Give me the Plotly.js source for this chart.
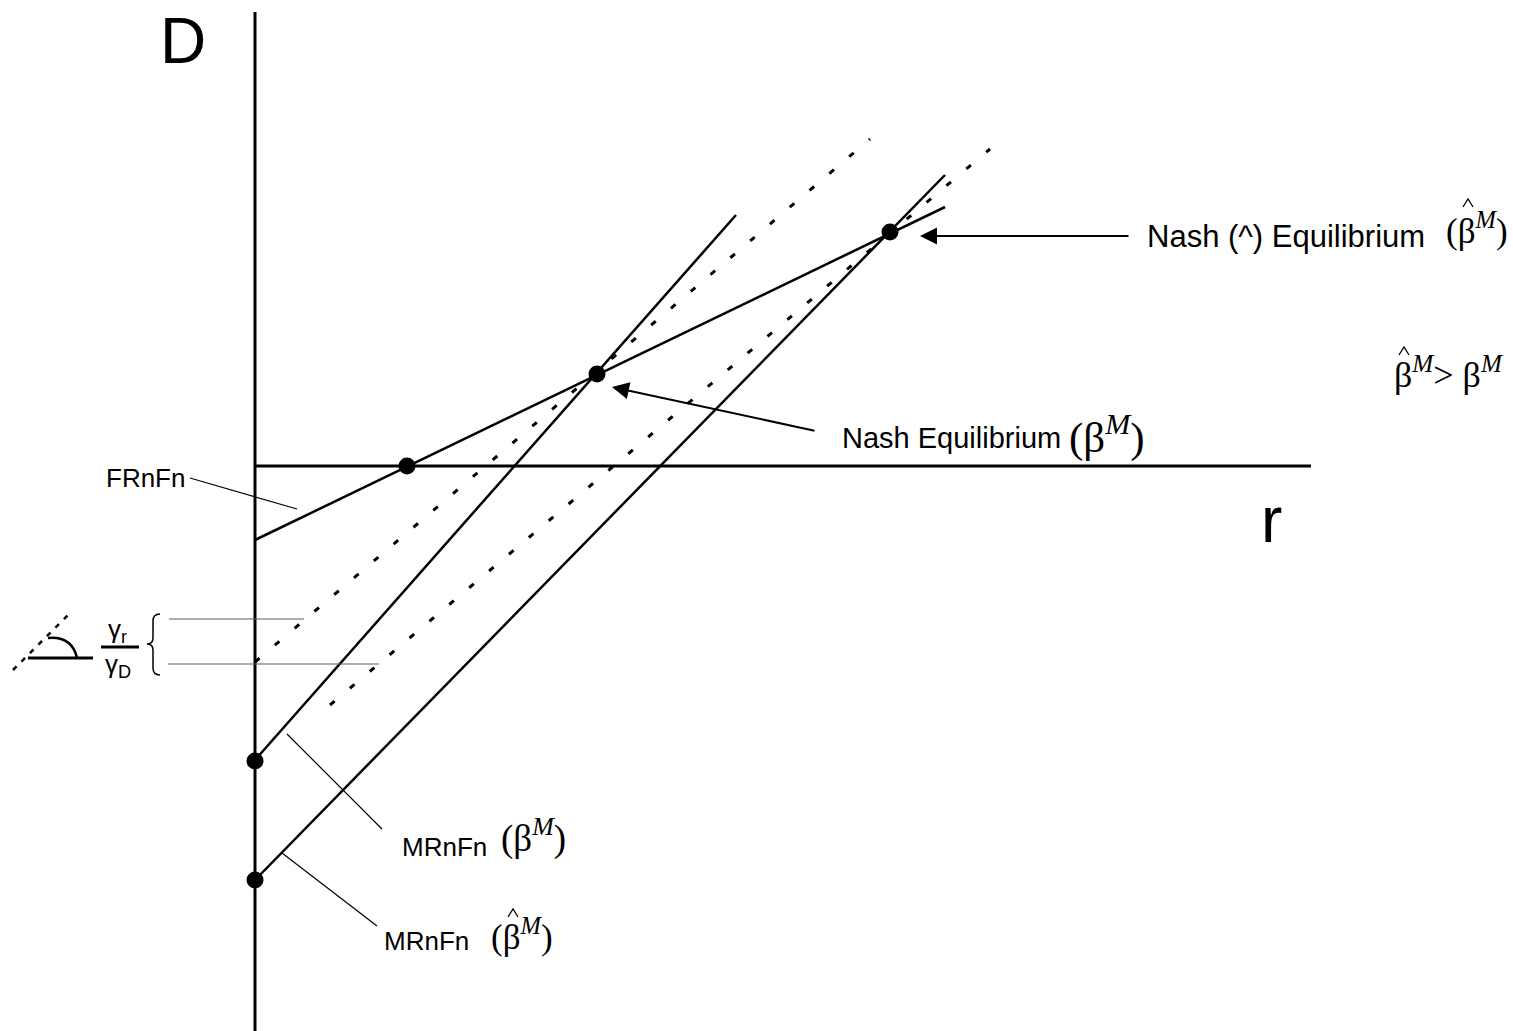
<!DOCTYPE html>
<html><head><meta charset="utf-8">
<script src="https://cdn.plot.ly/plotly-3.0.1.min.js"></script>
<style>html,body{margin:0;padding:0;background:#fff}</style>
</head><body><div id="chart" style="width:1513px;height:1031px"></div>
<script>
// ---- diagram data (in drawing units) ----
const axisDx = [255, 255], axisDy = [12, 1031];
const axisRx = [255, 1311], axisRy = [466, 466];
const frnfnX = [255, 945], frnfnY = [540, 207];
const mrBetaX = [255, 736], mrBetaY = [760, 215];
const mrHatX = [255, 945], mrHatY = [880, 175];
const dot1X = [255, 870], dot1Y = [662, 139];
const dot2X = [330, 990], dot2Y = [705, 149];
const angleDotX = [13, 70], angleDotY = [670, 613];
const angleBaseX = [28, 93], angleBaseY = [658, 658];
const eqX = [255, 255, 407, 597, 890], eqY = [761, 880, 466, 374, 232];
const leadFRx = [190, 297], leadFRy = [478, 509];
const leadMB_x = [287, 382], leadMB_y = [734, 829];
const leadMH_x = [282, 377], leadMH_y = [853, 926];
const leadG1x = [169, 304], leadG1y = [619, 619];
const leadG2x = [168, 379], leadG2y = [664, 664];
const fracBarX = [101, 139], fracBarY = [647, 647];
// arrows: [headX, headY, tailX, tailY]
const arrowHat = [920, 236, 1130, 236];
const arrowNash = [612, 387, 816, 431];
// brace and arc control points
const braceX = [160, 153, 153, 153, 153, 147, 153, 153, 153, 153, 160];
const braceY = [614, 614, 621, 638, 644, 644, 644, 650, 668, 675, 675];
const arcX = [48, 72, 77], arcY = [638, 636, 658];
// circumflex accents over beta (centre points)
const hatX = [1468, 1404, 513], hatY = [203, 351, 913];

const SANS = 'Liberation Sans, Arial, sans-serif';
const SERIF = 'Liberation Serif, Times New Roman, serif';
const bM = '(β<sup><i>M</i></sup>)';

function seg(x, y, w, dash, color) {
  return {x: x, y: y, mode: 'lines', type: 'scatter', hoverinfo: 'skip',
    line: {color: color || '#000', width: w, dash: dash || 'solid'}};
}

const traces = [
  seg(axisDx, axisDy, 3), seg(axisRx, axisRy, 3),
  seg(frnfnX, frnfnY, 2.5), seg(mrBetaX, mrBetaY, 2.5), seg(mrHatX, mrHatY, 2.5),
  seg(dot1X, dot1Y, 3, '6px,20px'), seg(dot2X, dot2Y, 3, '6px,20px'),
  seg(angleDotX, angleDotY, 2.5, '5px,7px'), seg(angleBaseX, angleBaseY, 3),
  seg(leadFRx, leadFRy, 1.2), seg(leadMB_x, leadMB_y, 1.2), seg(leadMH_x, leadMH_y, 1.2),
  seg(leadG1x, leadG1y, 1.2, 'solid', '#556060'), seg(leadG2x, leadG2y, 1.2, 'solid', '#556060'),
  seg(fracBarX, fracBarY, 3),
  {x: eqX, y: eqY, mode: 'markers', type: 'scatter', hoverinfo: 'skip',
   marker: {color: '#000', size: 17}}
];

function pathOf(xs, ys, cmds) {
  let p = '';
  for (let i = 0; i < xs.length; i++) p += (cmds[i] || ' ') + xs[i] + ',' + ys[i] + ' ';
  return p;
}
const bracePath = pathOf(braceX, braceY, ['M', 'Q', ' ', 'L', 'Q', ' ', 'Q', ' ', 'L', 'Q', ' ']);
const arcPath = pathOf(arcX, arcY, ['M', 'Q', ' ']);
const hatShapes = hatX.map((hx, i) => ({
  type: 'path', xref: 'x', yref: 'y', line: {color: '#000', width: 1.3},
  path: 'M' + (hx - 5) + ',' + (hatY[i] + 4) + ' L' + hx + ',' + (hatY[i] - 4) + ' L' + (hx + 5) + ',' + (hatY[i] + 4)
}));

function txt(x, y, text, size, family, anchor) {
  return {x: x, y: y, xref: 'x', yref: 'y', text: text, showarrow: false,
    xanchor: anchor || 'left', yanchor: 'middle', borderpad: 0,
    font: {size: size, family: family || SANS, color: '#000'}};
}
function arrow(a) {
  return {x: a[0], y: a[1], ax: a[2], ay: a[3], xref: 'x', yref: 'y', axref: 'x', ayref: 'y',
    text: '', showarrow: true, arrowhead: 2, arrowsize: 1.7, arrowwidth: 2, arrowcolor: '#000'};
}

const annotations = [
  txt(159, 41, 'D', 64), txt(1260, 520, 'r', 64),
  txt(1146, 236, 'Nash (^) Equilibrium', 31),
  txt(1445, 228, bM, 35, SERIF),
  txt(841, 438, 'Nash Equilibrium', 29),
  txt(1068, 434, bM, 43, SERIF),
  txt(1393, 372, 'β<sup><i>M</i></sup>> β<sup><i>M</i></sup>', 36, SERIF),
  txt(105, 478, 'FRnFn', 26),
  txt(401, 847, 'MRnFn', 26),
  txt(500, 836, bM, 37, SERIF),
  txt(383, 941, 'MRnFn', 26),
  txt(490, 934, bM, 35, SERIF),
  txt(117, 630, 'γ<sub>r</sub>', 26, SANS, 'center'),
  txt(118, 665, 'γ<sub>D</sub>', 26, SANS, 'center'),
  arrow(arrowHat), arrow(arrowNash)
];

const layout = {
  width: 1513, height: 1031, margin: {l: 0, r: 0, t: 0, b: 0},
  paper_bgcolor: '#fff', plot_bgcolor: '#fff', showlegend: false,
  xaxis: {range: [0, 1513], visible: false, fixedrange: true},
  yaxis: {range: [1031, 0], visible: false, fixedrange: true},
  shapes: [
    {type: 'path', path: bracePath, xref: 'x', yref: 'y', line: {color: '#000', width: 1.5}},
    {type: 'path', path: arcPath, xref: 'x', yref: 'y', line: {color: '#000', width: 2.5}}
  ].concat(hatShapes),
  annotations: annotations
};
Plotly.newPlot('chart', traces, layout, {displayModeBar: false, staticPlot: true});
</script></body></html>
